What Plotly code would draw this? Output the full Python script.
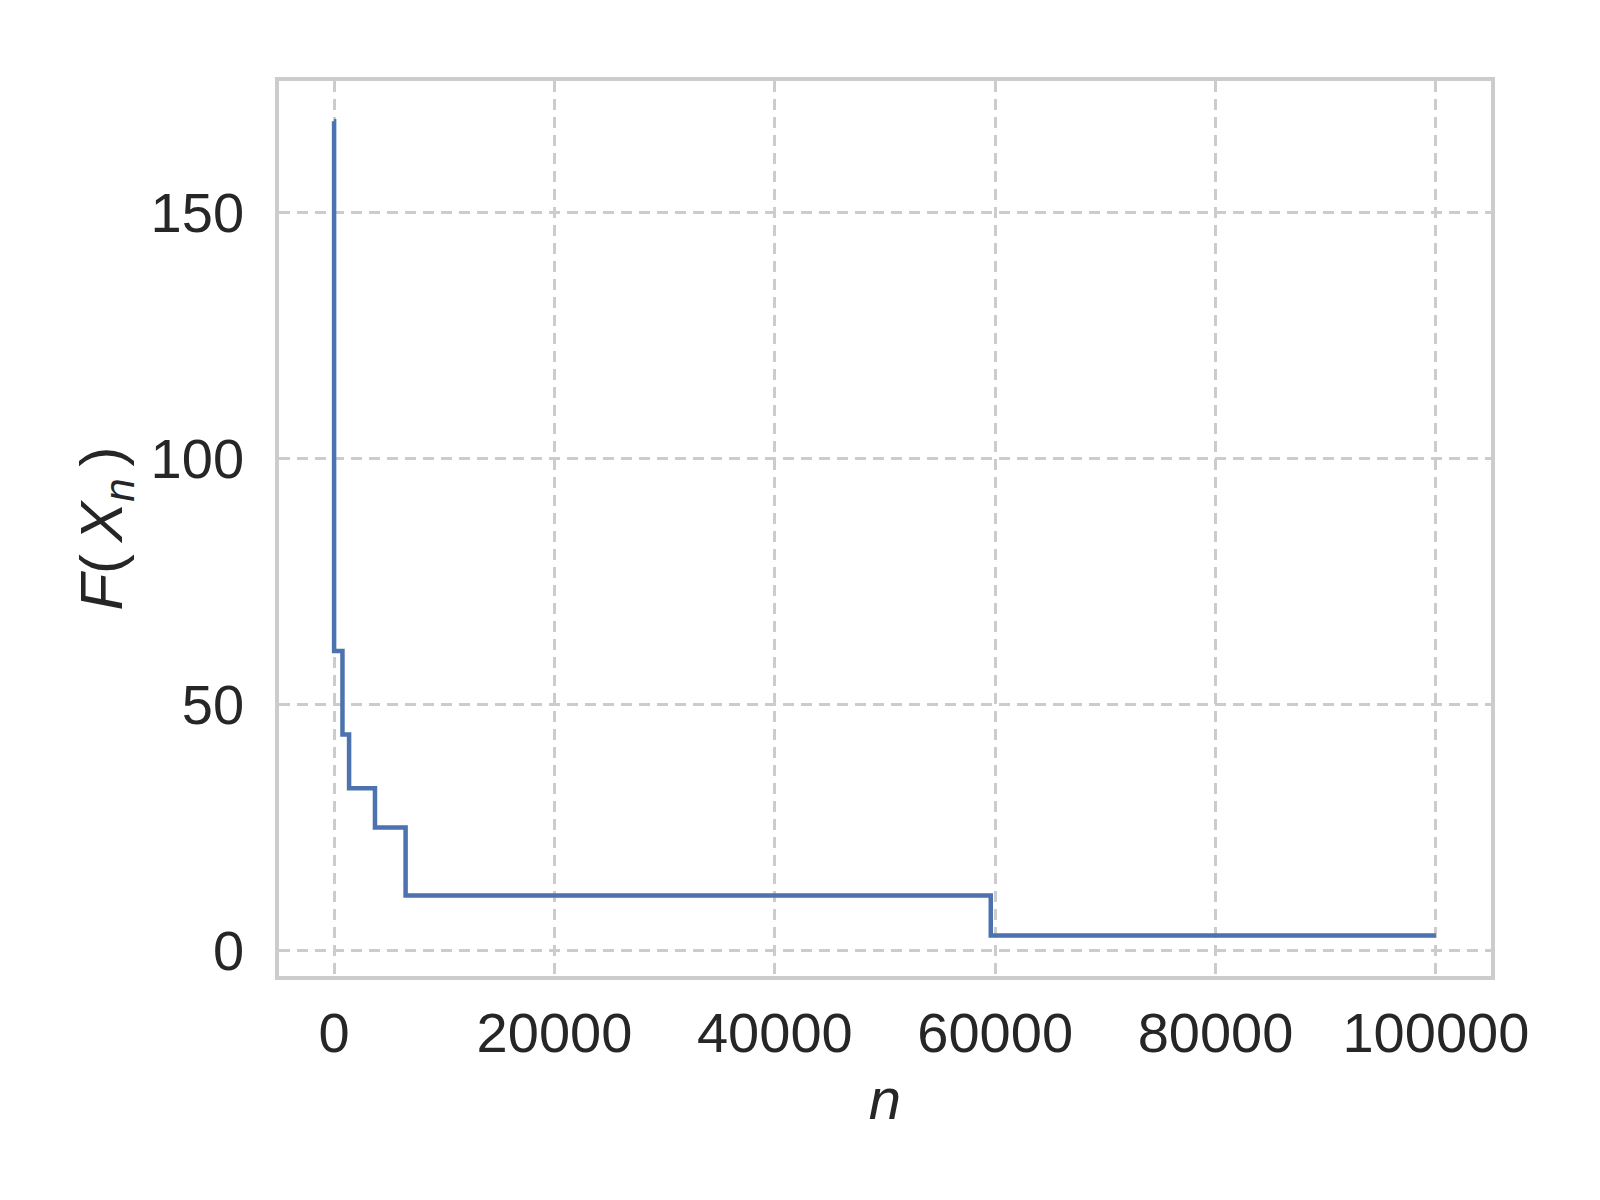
import plotly.graph_objects as go

# Data: best-so-far objective value F(X_n) vs iteration n (step function)
n_values = [0, 1, 760, 1360, 3710, 6490, 59600, 100000]
f_values = [168.5, 60.9, 43.9, 33.0, 25.0, 11.2, 3.1, 3.1]

x_ticks = [0, 20000, 40000, 60000, 80000, 100000]
y_ticks = [0, 50, 100, 150]

FONT = "Liberation Sans, Arial, sans-serif"
TXT = "#262626"
GRID = "#cccccc"

fig = go.Figure()
fig.add_trace(go.Scatter(
    x=n_values, y=f_values, mode="lines", line_shape="hv",
    line=dict(color="#4c72b0", width=4.5),
    showlegend=False,
))

fig.update_layout(
    width=1600, height=1200,
    margin=dict(l=271, r=117, t=73, b=232),
    paper_bgcolor="white", plot_bgcolor="white",
    font=dict(family=FONT, color=TXT, size=56),
)

fig.update_xaxes(
    range=[-5000, 105000],
    tickvals=x_ticks, ticktext=[str(v) for v in x_ticks],
    showgrid=True, gridcolor=GRID, gridwidth=2.5, griddash="11px,7px",
    zeroline=False,
    showline=True, linecolor=GRID, linewidth=3.5, mirror=True,
    ticks="", ticklabelstandoff=5,
    tickfont=dict(size=56, color=TXT, family=FONT),
    title=dict(text="<i>n</i>", font=dict(size=58, color=TXT, family=FONT), standoff=16),
)
fig.update_yaxes(
    range=[-5.15, 176.7],
    tickvals=y_ticks, ticktext=[str(v) for v in y_ticks],
    showgrid=True, gridcolor=GRID, gridwidth=2.5, griddash="11px,7px",
    zeroline=False,
    showline=True, linecolor=GRID, linewidth=3.5, mirror=True,
    ticks="", ticklabelstandoff=20,
    tickfont=dict(size=56, color=TXT, family=FONT),
    title=dict(text="<i>F</i>(\u2009<i>X</i><sub><i>n</i></sub>\u2009)",
               font=dict(size=60, color=TXT, family=FONT), standoff=10),
)

fig.write_html("out.html")
